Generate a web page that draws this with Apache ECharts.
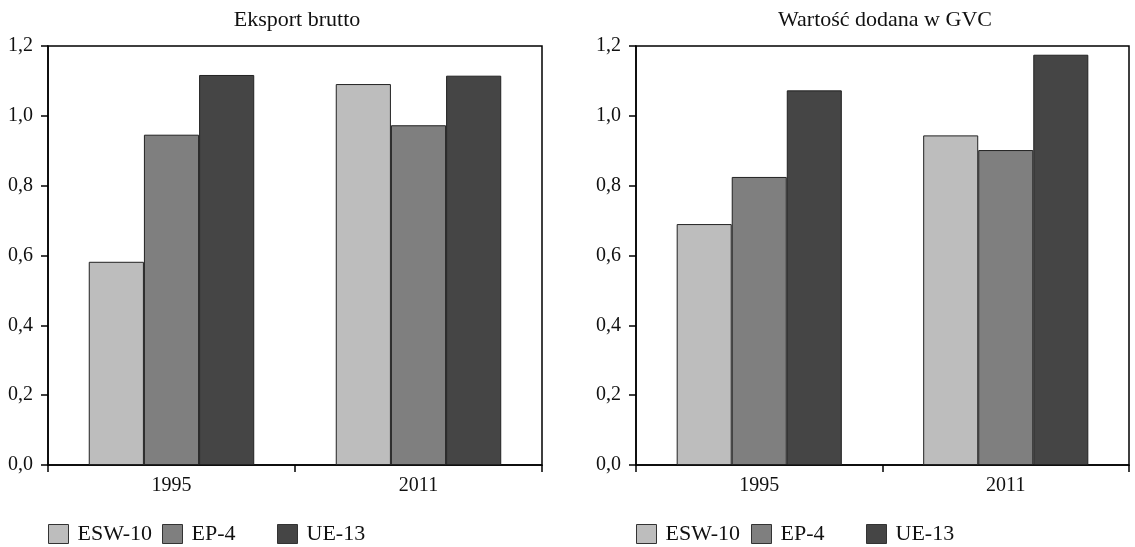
<!DOCTYPE html>
<html>
<head>
<meta charset="utf-8">
<script src="https://cdn.jsdelivr.net/npm/echarts@6/dist/echarts.min.js"></script>
<style>
  html, body { margin: 0; padding: 0; background: #fff; }
  #chart { width: 1135px; height: 547px; }
</style>
</head>
<body>
<div id="chart"></div>
<script>
// data
var years = ['1995', '2011'];
var seriesNames = ['ESW-10', 'EP-4', 'UE-13'];
var panelTitles = ['Eksport brutto', 'Wartość dodana w GVC'];

// Eksport brutto
var eksportESW = [0.582, 1.091];
var eksportEP = [0.946, 0.973];
var eksportUE = [1.117, 1.115];

// Wartość dodana w GVC
var gvcESW = [0.690, 0.944];
var gvcEP = [0.825, 0.902];
var gvcUE = [1.073, 1.175];

var yTicks = [0, 0.2, 0.4, 0.6, 0.8, 1.0, 1.2];

var colors = ['#bdbdbd', '#7f7f7f', '#454545'];
var font = '"Liberation Serif", "DejaVu Serif", serif';

var chart = echarts.init(document.getElementById('chart'));

var grids = [
  { left: 48, right: 593, top: 46, bottom: 82 },
  { left: 636, right: 6, top: 46, bottom: 82 }
];

function makeSeries(idx, vals) {
  return vals.map(function (v, i) {
    return {
      name: seriesNames[i],
      type: 'bar',
      xAxisIndex: idx,
      yAxisIndex: idx,
      data: v,
      barGap: '0%',
      barCategoryGap: '33%',
      itemStyle: { color: colors[i], borderColor: '#222', borderWidth: 1 },
      emphasis: { disabled: true }
    };
  });
}

var series = makeSeries(0, [eksportESW, eksportEP, eksportUE])
  .concat(makeSeries(1, [gvcESW, gvcEP, gvcUE]));

var xAxes = [0, 1].map(function (i) {
  return {
    type: 'category',
    gridIndex: i,
    data: years,
    axisLine: { lineStyle: { color: '#000', width: 1.5 } },
    axisTick: { show: true, length: 7, lineStyle: { color: '#000', width: 1.5 } },
    axisLabel: { color: '#111', fontFamily: font, fontSize: 20, margin: 11 }
  };
});

var yAxes = [0, 1].map(function (i) {
  return {
    type: 'value',
    gridIndex: i,
    min: yTicks[0],
    max: yTicks[yTicks.length - 1],
    interval: 0.2,
    splitLine: { show: false },
    axisLine: { show: true, lineStyle: { color: '#000', width: 1.5 } },
    axisTick: { show: true, length: 7, lineStyle: { color: '#000', width: 1.5 } },
    axisLabel: {
      color: '#111', fontFamily: font, fontSize: 20, margin: 15,
      formatter: function (v) { return v.toFixed(1).replace('.', ','); }
    }
  };
});

// one legend block per item so spacing stays fixed like in the source
var legendX = [[48, 162, 277], [636, 751, 866]];
var legends = [];
legendX.forEach(function (row) {
  row.forEach(function (x, k) {
    legends.push({
      data: [seriesNames[k]],
      left: x,
      top: 523,
      padding: 0,
      itemWidth: 20,
      itemHeight: 19,
      itemGap: 0,
      selectedMode: false,
      icon: 'rect',
      itemStyle: { borderColor: '#333', borderWidth: 1 },
      textStyle: { color: '#111', fontFamily: font, fontSize: 22, padding: [0, 0, 0, 4] }
    });
  });
});

var option = {
  animation: false,
  grid: grids.map(function (g) {
    return Object.assign({ show: true, borderColor: '#000', borderWidth: 1.5, backgroundColor: 'transparent' }, g);
  }),
  title: [
    { text: panelTitles[0], left: 292, top: 4, textAlign: 'center',
      textStyle: { fontFamily: font, fontSize: 22, fontWeight: 'normal', color: '#111' } },
    { text: panelTitles[1], left: 880, top: 4, textAlign: 'center',
      textStyle: { fontFamily: font, fontSize: 22, fontWeight: 'normal', color: '#111' } }
  ],
  legend: legends,
  xAxis: xAxes,
  yAxis: yAxes,
  series: series
};

option && chart.setOption(option);
</script>
</body>
</html>
